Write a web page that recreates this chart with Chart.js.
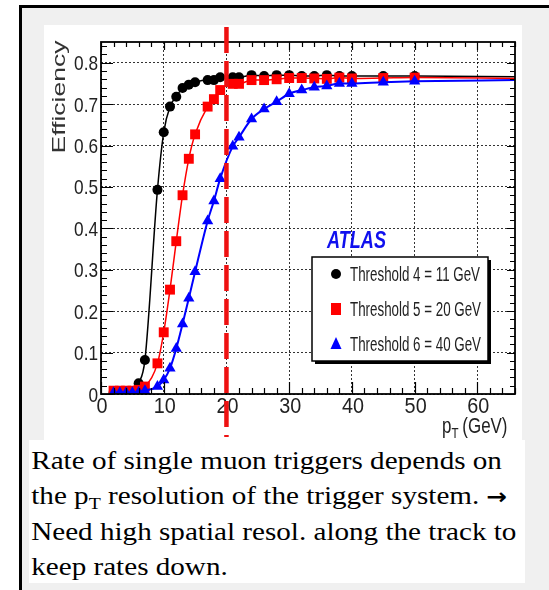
<!DOCTYPE html>
<html>
<head>
<meta charset="utf-8">
<script src="https://cdn.jsdelivr.net/npm/chart.js"></script>
<style>
  html, body { margin: 0; padding: 0; background: #fff; }
  body { width: 549px; height: 590px; position: relative; overflow: hidden; }
  .frame { position: absolute; left: 19px; top: 5px; width: 560px; height: 600px;
           border-left: 3px solid #000; border-top: 3px solid #000; background: #f0f0f0; }
  .plotbox { position: absolute; left: 44px; top: 25px; width: 478px; height: 415px; background: #fff; }
  .textbox { position: absolute; left: 29px; top: 440px; width: 496px; height: 143px; background: #fff;
             font-family: "Liberation Serif", "Times New Roman", serif; font-size: 26px; color: #000; }
  .textbox div { white-space: nowrap; line-height: 35px; padding-left: 2px;
                 transform: scaleX(1.12); transform-origin: 0 0; }
  .textbox div:first-child { margin-top: 3px; }
  sub { font-size: 0.68em; vertical-align: -0.3em; line-height: 0; }
  .arrow { font-family: "DejaVu Sans", sans-serif; font-weight: bold; font-size: 22px; }
</style>
</head>
<body>
<div class="frame"></div>
<div class="plotbox"><canvas id="eff" width="478" height="415"></canvas></div>
<div class="textbox">
  <div>Rate of single muon triggers depends on</div>
  <div>the p<sub>T</sub> resolution of the trigger system. <span class="arrow">&#8594;</span></div>
  <div>Need high spatial resol. along the track to</div>
  <div>keep rates down.</div>
</div>
<script>
// pT bins (GeV); the last entry is where the fitted curve ends (no marker)
const ptBins = [2, 3, 4, 5, 6, 7, 9, 10, 11, 12, 13, 14, 15, 17, 18, 19, 21, 22, 24, 26, 28, 30, 32, 34, 36, 38, 40, 45, 50, 66];
const effThr4 = [0.003, 0.003, 0.004, 0.005, 0.026, 0.082, 0.493, 0.632, 0.694, 0.718, 0.739, 0.747, 0.753, 0.758, 0.758, 0.765, 0.765, 0.765,
                 0.770, 0.768, 0.770, 0.770, 0.768, 0.768, 0.770, 0.768, 0.768, 0.768, 0.768, 0.766];
const effThr5 = [0.008, 0.008, 0.008, 0.008, 0.010, 0.018, 0.074, 0.149, 0.252, 0.369, 0.480, 0.568, 0.627, 0.694, 0.712, 0.734, 0.749, 0.749,
                 0.758, 0.758, 0.760, 0.763, 0.763, 0.762, 0.761, 0.764, 0.762, 0.763, 0.764, 0.762];
const effThr6 = [0.003, 0.003, 0.003, 0.003, 0.004, 0.008, 0.018, 0.034, 0.062, 0.110, 0.169, 0.231, 0.295, 0.418, 0.466, 0.520, 0.598, 0.620,
                 0.664, 0.688, 0.706, 0.725, 0.734, 0.741, 0.744, 0.750, 0.750, 0.753, 0.755, 0.758];
const seriesLabels = ["Threshold 4 = 11 GeV", "Threshold 5 = 20 GeV", "Threshold 6 = 40 GeV"];

const xTicks = [0, 10, 20, 30, 40, 50, 60];
const xTickLabels = ["0", "10", "20", "30", "40", "50", "60"];
const yTicks = [0, 0.1, 0.2, 0.3, 0.4, 0.5, 0.6, 0.7, 0.8];
const yTickLabels = ["0", "0.1", "0.2", "0.3", "0.4", "0.5", "0.6", "0.7", "0.8"];
const xMinorStep = 2;
const yMinorStep = 0.02;
const xMax = 66;
const yMax = 0.85;
const cutPt = 20; // red dashed line

function pts(arr) { return ptBins.map((x, i) => ({ x: x, y: arr[i] })); }
function radius(r) { return (c) => (c.dataIndex === ptBins.length - 1 ? 0 : r); }

function drawScaled(ctx, text, px, py, font, sx, align, color) {
  ctx.save();
  ctx.translate(px, py);
  ctx.scale(sx, 1);
  ctx.font = font;
  ctx.fillStyle = color;
  ctx.textAlign = align;
  ctx.textBaseline = "alphabetic";
  ctx.fillText(text, 0, 0);
  ctx.restore();
}
function fitScale(ctx, text, font, width) {
  ctx.save(); ctx.font = font;
  const w = ctx.measureText(text).width;
  ctx.restore();
  return width / w;
}
function marker(ctx, style, x, y, color) {
  ctx.fillStyle = color;
  ctx.beginPath();
  if (style === "circle") ctx.arc(x, y, 5, 0, Math.PI * 2);
  else if (style === "rect") ctx.rect(x - 5, y - 6, 10, 12);
  else { ctx.moveTo(x, y - 7); ctx.lineTo(x + 5.5, y + 5); ctx.lineTo(x - 5.5, y + 5); ctx.closePath(); }
  ctx.fill();
}

const rootFrame = {
  id: "rootFrame",
  afterDraw(chart) {
    const { ctx, chartArea: a, scales: { x, y } } = chart;
    ctx.save();
    // tick marks on all four sides (ROOT style, inward)
    ctx.strokeStyle = "#000";
    ctx.lineWidth = 1.2;
    ctx.beginPath();
    for (let i = 0; i * xMinorStep <= xMax + 1e-9; i++) {
      const v = i * xMinorStep;
      const major = v % 10 === 0;
      const px = Math.round(x.getPixelForValue(v)) + 0.5;
      ctx.moveTo(px, a.bottom); ctx.lineTo(px, a.bottom - (major ? 12 : 6));
      ctx.moveTo(px, a.top); ctx.lineTo(px, a.top + (major ? 8 : 5));
    }
    for (let i = 0; i * yMinorStep <= yMax + 1e-9; i++) {
      const v = i * yMinorStep;
      const major = i % 5 === 0;
      const py = Math.round(y.getPixelForValue(v)) + 0.5;
      ctx.moveTo(a.left, py); ctx.lineTo(a.left + (major ? 12 : 6), py);
      ctx.moveTo(a.right, py); ctx.lineTo(a.right - (major ? 8 : 5), py);
    }
    ctx.stroke();
    ctx.lineWidth = 1.8;
    ctx.strokeRect(a.left, a.top, a.right - a.left, a.bottom - a.top);

    // tick labels
    const lab = "#222";
    xTicks.forEach((v, i) => drawScaled(ctx, xTickLabels[i], x.getPixelForValue(v) + 1, a.bottom + 19, "22px 'Liberation Sans', Arial, sans-serif", 0.9, "center", lab));
    yTicks.forEach((v, i) => drawScaled(ctx, yTickLabels[i], a.left - 3, y.getPixelForValue(v) + 7.5, "21px 'Liberation Sans', Arial, sans-serif", 0.82, "right", lab));

    // axis titles
    const tf = "18.5px 'Liberation Sans', Arial, sans-serif";
    ctx.save();
    ctx.translate(15, 72);
    ctx.rotate(-Math.PI / 2);
    drawScaled(ctx, "Efficiency", 0, 6, tf, fitScale(ctx, "Efficiency", tf, 113), "center", "#333");
    ctx.restore();

    ctx.save();
    ctx.translate(398, 408);
    ctx.scale(0.77, 1);
    ctx.fillStyle = "#222";
    ctx.textBaseline = "alphabetic";
    ctx.font = "22px 'Liberation Sans', Arial, sans-serif";
    ctx.fillText("p", 0, 0);
    const pw = ctx.measureText("p").width;
    ctx.font = "15px 'Liberation Sans', Arial, sans-serif";
    ctx.fillText("T", pw, 5);
    const tw = ctx.measureText("T").width;
    ctx.font = "22px 'Liberation Sans', Arial, sans-serif";
    ctx.fillText("(GeV)", pw + tw + 5, 0);
    ctx.restore();

    // threshold line
    ctx.strokeStyle = "#ee1111";
    ctx.lineWidth = 4.5;
    ctx.setLineDash([26, 8]);
    const cx = x.getPixelForValue(cutPt);
    ctx.beginPath(); ctx.moveTo(cx, 2); ctx.lineTo(cx, 412); ctx.stroke();
    ctx.setLineDash([]);

    // ATLAS label
    const af = "italic bold 23px 'Liberation Sans', Arial, sans-serif";
    drawScaled(ctx, "ATLAS", 283, 223, af, fitScale(ctx, "ATLAS", af, 59), "left", "#1010ee");

    // legend box with shadow
    const L = { x: 268, y: 232, w: 176, h: 104 };
    ctx.fillStyle = "#000";
    ctx.fillRect(L.x + 3, L.y + 3, L.w, L.h);
    ctx.fillStyle = "#fff";
    ctx.fillRect(L.x, L.y, L.w, L.h);
    ctx.lineWidth = 1.5;
    ctx.strokeStyle = "#000";
    ctx.strokeRect(L.x, L.y, L.w, L.h);
    const lf = "19.5px 'Liberation Sans', Arial, sans-serif";
    const ls = fitScale(ctx, seriesLabels[0], lf, 130);
    const rows = [249, 284, 319];
    chart.data.datasets.forEach((d, i) => {
      marker(ctx, d.pointStyle, 292, rows[i], d.borderColor);
      drawScaled(ctx, seriesLabels[i], 306, rows[i] + 7, lf, ls, "left", "#222");
    });
    ctx.restore();
  }
};

new Chart(document.getElementById("eff"), {
  type: "line",
  data: {
    datasets: [
      { label: seriesLabels[0], data: pts(effThr4), borderColor: "#000000", backgroundColor: "#000000",
        borderWidth: 1.5, pointStyle: "circle", pointRadius: radius(5), pointBorderWidth: 0, order: 3 },
      { label: seriesLabels[1], data: pts(effThr5), borderColor: "#ff0000", backgroundColor: "#ff0000",
        borderWidth: 1.5, pointStyle: "rect", pointRadius: radius(7), pointBorderWidth: 0, order: 2 },
      { label: seriesLabels[2], data: pts(effThr6), borderColor: "#0000ff", backgroundColor: "#0000ff",
        borderWidth: 2, pointStyle: "triangle", pointRadius: radius(6.5), pointBorderWidth: 0, order: 1 }
    ]
  },
  options: {
    responsive: false,
    animation: false,
    layout: { padding: { left: 57, top: 17, right: 6, bottom: 46 } },
    elements: { line: { cubicInterpolationMode: "monotone" } },
    plugins: { legend: { display: false }, tooltip: { enabled: false } },
    scales: {
      x: {
        type: "linear", min: 0, max: xMax,
        afterBuildTicks: (s) => { s.ticks = xTicks.map((v) => ({ value: v })); },
        ticks: { display: false },
        grid: { color: "rgba(0,0,0,0.8)", lineWidth: 1, drawTicks: false },
        border: { display: false, dash: [2, 2] }
      },
      y: {
        type: "linear", min: 0, max: yMax,
        afterBuildTicks: (s) => { s.ticks = yTicks.map((v) => ({ value: v })); },
        ticks: { display: false },
        grid: { color: "rgba(0,0,0,0.8)", lineWidth: 1, drawTicks: false },
        border: { display: false, dash: [2, 2] }
      }
    }
  },
  plugins: [rootFrame]
});
</script>
</body>
</html>
